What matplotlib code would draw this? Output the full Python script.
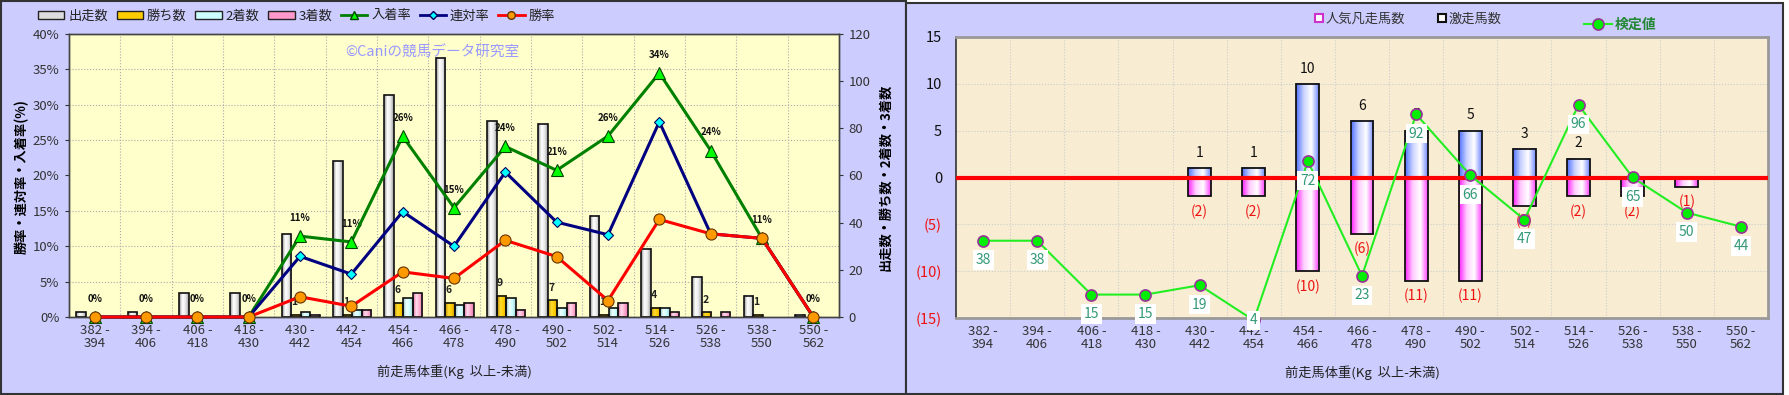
import numpy as np
import matplotlib
matplotlib.use("Agg")
import matplotlib.pyplot as plt
from matplotlib.colors import LinearSegmentedColormap
from matplotlib.patches import Rectangle, Patch
from matplotlib.lines import Line2D

plt.rcParams['font.family'] = ['Noto Sans CJK JP', 'DejaVu Sans']

# weight classes (kg, from - to)
cats = ['382 -\n394', '394 -\n406', '406 -\n418', '418 -\n430', '430 -\n442',
        '442 -\n454', '454 -\n466', '466 -\n478', '478 -\n490', '490 -\n502',
        '502 -\n514', '514 -\n526', '526 -\n538', '538 -\n550', '550 -\n562']

# left chart: counts
runs = [2, 2, 10, 10, 35, 66, 94, 110, 83, 82, 43, 29, 17, 9, 1]
wins = [0, 0, 0, 0, 1, 1, 6, 6, 9, 7, 1, 4, 2, 1, 0]
second = [0, 0, 0, 0, 2, 3, 8, 5, 8, 4, 4, 4, 0, 0, 0]
third = [0, 0, 0, 0, 1, 3, 10, 6, 3, 6, 6, 2, 2, 0, 0]

# left chart: rates (%)
place_rate = [0, 0, 0, 0, 11.43, 10.61, 25.53, 15.45, 24.10, 20.73, 25.58, 34.48, 23.53, 11.11, 0]
quinella_rate = [0, 0, 0, 0, 8.57, 6.06, 14.89, 10.0, 20.48, 13.41, 11.63, 27.59, 11.76, 11.11, 0]
win_rate = [0, 0, 0, 0, 2.86, 1.52, 6.38, 5.45, 10.84, 8.54, 2.33, 13.79, 11.76, 11.11, 0]

# right chart
gekisou = [0, 0, 0, 0, 1, 1, 10, 6, 5, 5, 3, 2, 0, 0, 0]
bonsou = [0, 0, 0, 0, 2, 2, 10, 6, 11, 11, 3, 2, 2, 1, 0]
kentei = [38, 38, 15, 15, 19, 4, 72, 23, 92, 66, 47, 96, 65, 50, 44]

W, H = 1790, 395
fig = plt.figure(figsize=(W / 100, H / 100), dpi=100, facecolor='white')


def px(x0, y0, x1, y1):
    return [x0 / W, 1 - y1 / H, (x1 - x0) / W, (y1 - y0) / H]


# panel backgrounds
fig.patches.append(Rectangle((1 / W, 1 / H), 905 / W, (H - 2) / H, transform=fig.transFigure,
                             fc='#ccccff', ec='#333333', lw=1.5, zorder=-10))
fig.patches.append(Rectangle((906 / W, 1 / H), 877 / W, (H - 4) / H, transform=fig.transFigure,
                             fc='#ccccff', ec='#333333', lw=1.5, zorder=-10))


def grad_fill(ax, bars, colors, z):
    cmap = LinearSegmentedColormap.from_list('g', colors)
    grad = np.linspace(0, 1, 100).reshape(1, -1)
    for b in bars:
        h = b.get_height()
        if h == 0:
            b.set_visible(False)
            continue
        x0, y0, w = b.get_x(), b.get_y(), b.get_width()
        ax.imshow(grad, extent=(x0, x0 + w, min(y0, y0 + h), max(y0, y0 + h)),
                  aspect='auto', cmap=cmap, zorder=z, interpolation='bilinear')


x = np.arange(len(cats))

# ---------------- left chart ----------------
axb = fig.add_axes(px(69, 34, 839, 317))
axb.set_facecolor('#ffffcc')
axl = axb.twinx()
axb.yaxis.tick_right()
axl.yaxis.tick_left()

bw = 0.185
series = [(runs, ['#8c8c8c', '#ffffff', '#e8e8e8', '#9a9a9a']),
          (wins, ['#b08000', '#ffdd33', '#ffcc00', '#c09000']),
          (second, ['#88bbbb', '#eeffff', '#ccffff', '#99cccc']),
          (third, ['#dd6699', '#ffddee', '#ffaacc', '#dd77aa'])]
for k, (vals, cols) in enumerate(series):
    off = (k - 1.5) * bw + 0.015
    bars = axb.bar(x + off, vals, bw, facecolor='none', edgecolor='#111111', lw=1.2, zorder=3)
    grad_fill(axb, bars, cols, 2)

for i, w in enumerate(wins):
    if w > 0:
        axb.annotate(str(w), (i - 0.5 * bw + 0.015, w), xytext=(-1, 9), textcoords='offset points',
                     ha='center', va='center', fontsize=7.5, weight='bold', color='#222222')

axb.set_xlim(-0.5, len(cats) - 0.5)
axb.set_ylim(0, 120)
axb.set_yticks(range(0, 121, 20))
axb.set_yticks(range(0, 121, 15), minor=True)
axb.set_xticks(x)
axb.set_xticks(np.arange(0.5, len(cats) - 1, 1), minor=True)
axb.set_xticklabels(cats, fontsize=9.5, color='#333333', linespacing=1.0)
axb.tick_params(axis='x', which='both', length=0, pad=5)
axb.tick_params(axis='y', which='major', labelsize=9.5, colors='#333333', length=3, pad=4)
axb.tick_params(axis='y', which='minor', length=0)
axb.grid(which='minor', color='#aaaaaa', ls=':', lw=0.8)
axb.set_axisbelow(True)

axl.plot(x, place_rate, color='#008000', lw=2.2, marker='^', ms=9, mfc='#00ff00', mec='#004400',
         mew=0.8, zorder=4, clip_on=False)
axl.plot(x, quinella_rate, color='#000080', lw=2.2, marker='D', ms=5.5, mfc='#00ffff', mec='#000060',
         mew=0.8, zorder=5, clip_on=False)
axl.plot(x, win_rate, color='#ff0000', lw=2.2, marker='o', ms=8, mfc='#ff9900', mec='#663300',
         mew=0.8, zorder=6, clip_on=False)
for i, v in enumerate(place_rate):
    axl.annotate(f"{round(v)}%", (i, v), xytext=(0, 13), textcoords='offset points',
                 ha='center', va='center', fontsize=7, weight='bold', color='#111111')
axl.set_ylim(0, 40)
axl.set_yticks(range(0, 41, 5))
axl.set_yticklabels([f"{v}%" for v in range(0, 41, 5)])
axl.tick_params(axis='y', labelsize=9.5, colors='#333333', length=3, pad=4)
for ax in (axb, axl):
    for s in ax.spines.values():
        s.set_color('#444444')
        s.set_linewidth(1)

fig.text(22 / W, 1 - 177 / H, '勝率・連対率・入着率(%)', rotation=90, ha='center', va='center',
         fontsize=9.5, weight='bold')
fig.text(885 / W, 1 - 177 / H, '出走数・勝ち数・2着数・3着数', rotation=90, ha='center', va='center',
         fontsize=9.5, weight='bold')
fig.text((69 + 839) / 2 / W, 1 - 372 / H, '前走馬体重(Kg  以上-未満)', ha='center', va='center',
         fontsize=9.5, color='#222222')
fig.text(345 / W, 1 - 53 / H, '©Caniの競馬データ研究室', color='#9999ff', fontsize=10.5, va='center')

lh = [Patch(fc='#dddddd', ec='#222222'), Patch(fc='#ffcc00', ec='#222222'),
      Patch(fc='#ccffff', ec='#222222'), Patch(fc='#ff99cc', ec='#222222'),
      Line2D([], [], color='#008000', lw=2, marker='^', ms=6, mfc='#00ff00', mec='#004400'),
      Line2D([], [], color='#000080', lw=2, marker='D', ms=4, mfc='#00ffff', mec='#000060'),
      Line2D([], [], color='#ff0000', lw=2, marker='o', ms=5.5, mfc='#ff9900', mec='#663300')]
fig.legend(lh, ['出走数', '勝ち数', '2着数', '3着数', '入着率', '連対率', '勝率'], ncol=7,
           loc='center left', bbox_to_anchor=(38 / W, 1 - 16 / H), frameon=False, fontsize=9.5,
           handlelength=2.0, handleheight=0.55, handletextpad=0.3, columnspacing=0.65,
           borderpad=0, borderaxespad=0, labelcolor='#222222')

# ---------------- right chart ----------------
axr = fig.add_axes(px(956, 37, 1768, 318))
axr.set_facecolor('#f8edd3')
rw = 0.42
b1 = axr.bar(x, gekisou, rw, facecolor='none', edgecolor='#111111', lw=1.3, zorder=3)
grad_fill(axr, b1, ['#5070ff', '#c8d2ff', '#ffffff', '#7088ff'], 2)
b2 = axr.bar(x, [-v for v in bonsou], rw, facecolor='none', edgecolor='#111111', lw=1.3, zorder=3)
grad_fill(axr, b2, ['#ff22ff', '#ffccff', '#ffffff', '#ff44ff'], 2)
axr.axhline(0, color='#ff0000', lw=3, zorder=5)
for i, v in enumerate(gekisou):
    if v > 0:
        axr.annotate(str(v), (i, v), xytext=(0, 11), textcoords='offset points', ha='center',
                     va='center', fontsize=10, color='#111111')
for i, v in enumerate(bonsou):
    if v > 0:
        axr.annotate(f"({v})", (i, -v), xytext=(0, -11), textcoords='offset points', ha='center',
                     va='center', fontsize=10, color='#ee1111')

axr.set_xlim(-0.5, len(cats) - 0.5)
axr.set_ylim(-15, 15)
ticks = list(range(-15, 16, 5))
axr.set_yticks(ticks)
axr.set_yticklabels([f"({-t})" if t < 0 else str(t) for t in ticks], fontsize=10.5)
for t, lab in zip(ticks, axr.get_yticklabels()):
    lab.set_color('#ee1111' if t < 0 else '#111111')
axr.set_xticks(x)
axr.set_xticklabels(cats, fontsize=9.5, color='#333333', linespacing=1.0)
axr.set_xticks(np.arange(0.5, len(cats) - 1, 1), minor=True)
axr.tick_params(axis='both', which='both', length=0)
axr.tick_params(axis='y', pad=10)
axr.tick_params(axis='x', pad=5)
axr.grid(which='minor', axis='x', color='#cccccc', ls=':', lw=0.8)
axr.grid(which='major', axis='y', color='#cccccc', ls=':', lw=0.8)
axr.set_axisbelow(True)
for name, s in axr.spines.items():
    s.set_color('#333333' if name == 'left' else '#999999')
    s.set_linewidth(1.2 if name == 'left' else 2)

axr2 = axr.twinx()
axr2.set_ylim(5, 125)
axr2.set_yticks([])
for s in axr2.spines.values():
    s.set_visible(False)
axr2.plot(x, kentei, color='#22ee22', lw=1.5, marker='o', ms=8, mfc='#00ee00', mec='#993399',
          mew=1.2, zorder=6, clip_on=False)
lo = axr2.get_ylim()[0]
for i, v in enumerate(kentei):
    dy = 0 if v <= lo else -14
    axr2.annotate(str(v), (i, v), xytext=(0, dy), textcoords='offset points', ha='center',
                  va='center', fontsize=10, color='#339977', zorder=7, annotation_clip=False,
                  bbox=dict(boxstyle='square,pad=0.2', fc='white', ec='none'))

fig.text((956 + 1768) / 2 / W, 1 - 373 / H, '前走馬体重(Kg  以上-未満)', ha='center', va='center',
         fontsize=9.5, color='#222222')

h1 = Line2D([], [], ls='none', marker='s', ms=6, mfc='white', mec='#cc33cc', mew=1.5)
h2 = Line2D([], [], ls='none', marker='s', ms=6, mfc='white', mec='#111111', mew=1.5)
fig.legend([h1, h2], ['人気凡走馬数', '激走馬数'], ncol=2, loc='center left',
           bbox_to_anchor=(1314 / W, 1 - 19 / H), frameon=False, fontsize=9.5,
           handlelength=0.7, handletextpad=0.2, columnspacing=2.4, borderpad=0, borderaxespad=0,
           labelcolor='#333333')
h3 = Line2D([], [], color='#22ee22', lw=1.5, marker='o', ms=8, mfc='#00ee00', mec='#993399', mew=1.2)
fig.legend([h3], ['検定値'], loc='center left', bbox_to_anchor=(1584 / W, 1 - 25 / H), frameon=False,
           fontsize=10, handlelength=2.0, handletextpad=0.2, borderpad=0, borderaxespad=0,
           labelcolor='#228833', prop={'weight': 'bold', 'size': 10})

fig.savefig('out.png', dpi=100, facecolor=fig.get_facecolor())
